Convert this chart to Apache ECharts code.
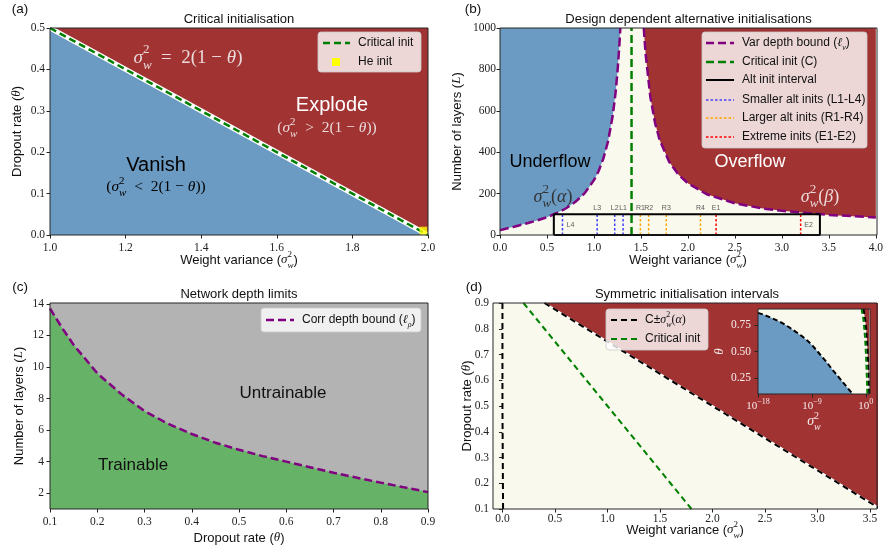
<!DOCTYPE html>
<html><head><meta charset="utf-8">
<script src="https://cdn.jsdelivr.net/npm/echarts@6/dist/echarts.min.js"></script>
<style>html,body{margin:0;padding:0;background:#fff}#c{width:886px;height:548px}</style>
</head><body><div id="c"></div>
<script>
// ================= DATA =================
// (a) critical initialisation line sigma_w^2 = 2(1-theta)
const aCritSigma = [1.0, 2.0];
const aCritTheta = [0.5, 0.0];
const heInitPoint = [1.988, 0.0104];

// (b) variance depth bound, left and right branches
const bLeftSigma = [0.0, 0.01, 0.03, 0.06, 0.1, 0.15, 0.2, 0.3, 0.4, 0.5, 0.6, 0.7, 0.8, 0.9, 1.0, 1.05, 1.1, 1.15, 1.2, 1.23, 1.25, 1.27, 1.281];
const bLeftDepth = [22, 24, 27, 30, 35, 40, 46, 58, 71, 86, 105, 128, 159, 201, 265, 309, 369, 452, 577, 687, 785, 913, 1000];
const bRightSigma = [1.53, 1.55, 1.6, 1.65, 1.7, 1.8, 1.9, 2.0, 2.2, 2.5, 2.8, 3.0, 3.5, 4.0];
const bRightDepth = [1000, 874, 667, 542, 458, 354, 291, 250, 197, 153, 128, 117, 97, 85];
const bCriticalSigma = [1.4, 1.4];
const bCriticalDepth = [0, 1000];
const bIntervalSigma = [0.573, 0.573, 3.405, 3.405, 0.573];
const bIntervalDepth = [0, 100, 100, 0, 0];
const smallerInits = [0.665, 1.034, 1.221, 1.31];
const smallerNames = ['L4', 'L3', 'L2', 'L1'];
const largerInits = [1.494, 1.582, 1.77, 2.134];
const largerNames = ['R1', 'R2', 'R3', 'R4'];
const extremeInits = [2.30, 3.20];
const extremeNames = ['E1', 'E2'];
const initLineDepth = [0, 98];

// (c) correlation depth bound
const cTheta = [0.1, 0.125, 0.15, 0.175, 0.2, 0.25, 0.3, 0.35, 0.4, 0.45, 0.5, 0.55, 0.6, 0.65, 0.7, 0.75, 0.8, 0.85, 0.9];
const cDepth = [13.7, 12.5, 11.4, 10.5, 9.6, 8.3, 7.2, 6.4, 5.75, 5.2, 4.75, 4.35, 4.0, 3.65, 3.3, 2.98, 2.67, 2.37, 2.07];

// (d) symmetric intervals
const dTheta = [0.9, 0.8, 0.7, 0.6, 0.5, 0.4, 0.3, 0.2, 0.1];
const dCritical = [0.2, 0.4, 0.6, 0.8, 1.0, 1.2, 1.4, 1.6, 1.8];
const dUpper = [0.4, 0.8, 1.2, 1.6, 2.0, 2.4, 2.8, 3.2, 3.6];
const dLowerSigma = [0.0, 0.0, 0.006];
const dLowerTheta = [0.9, 0.5, 0.1];
// inset: sigma_w^2(alpha) on log scale (exponents of 10)
const insetLogSigma = [-18, -17, -15.6, -14, -12.8, -10.6, -9.7, -8.9, -7.3, -6.4, -5.6, -4.7, -3.9, -3.0, -2.2];
const insetTheta = [0.864, 0.845, 0.812, 0.77, 0.728, 0.642, 0.6, 0.556, 0.45, 0.39, 0.33, 0.27, 0.215, 0.155, 0.1];

// tick values
const aXTicks = [1.0, 1.2, 1.4, 1.6, 1.8, 2.0];
const aYTicks = [0.0, 0.1, 0.2, 0.3, 0.4, 0.5];
const bXTicks = [0, 0.5, 1.0, 1.5, 2.0, 2.5, 3.0, 3.5, 4.0];
const bYTicks = [0, 200, 400, 600, 800, 1000];
const cXTicks = [0.1, 0.2, 0.3, 0.4, 0.5, 0.6, 0.7, 0.8, 0.9];
const cYTicks = [2, 4, 6, 8, 10, 12, 14];
const dXTicks = [0, 0.5, 1.0, 1.5, 2.0, 2.5, 3.0, 3.5];
const dYTicks = [0.1, 0.2, 0.3, 0.4, 0.5, 0.6, 0.7, 0.8, 0.9];
const eXTicks = [1e-18, 1e-9, 1];
const eYTicks = [0.25, 0.5, 0.75];

// ================= STYLE / LAYOUT =================
const SANS = 'Liberation Sans', SERIF = 'Liberation Serif';
const BLUE = '#6b9bc3', RED = '#a23333', CREAM = '#f9f9ed', GREY = '#b3b3b3', GREENF = '#66b266';
const PURPLE = '#800080', GREEN = '#008000', BLACK = '#000';
const G = {
  a: {left: 50, top: 28, width: 378, height: 207},
  b: {left: 500, top: 28, width: 377, height: 207},
  c: {left: 50, top: 303, width: 378, height: 206},
  d: {left: 493, top: 303, width: 384, height: 206},
  e: {left: 758, top: 309, width: 112, height: 85}
};

function rich(size, color) {
  const lh = Math.round(size * 1.5);
  const small = Math.round(size * 0.7);
  const c = {color: color, fill: color};
  return {
    t: Object.assign({fontFamily: SANS, fontSize: size, lineHeight: lh, align: 'left'}, c),
    r: Object.assign({fontFamily: SERIF, fontSize: size, lineHeight: lh, align: 'left'}, c),
    m: Object.assign({fontFamily: SERIF, fontStyle: 'italic', fontSize: size, lineHeight: lh, align: 'left'}, c),
    p: Object.assign({fontFamily: SERIF, fontSize: small, verticalAlign: 'top', width: 0, align: 'left'}, c),
    b: Object.assign({fontFamily: SERIF, fontStyle: 'italic', fontSize: small, verticalAlign: 'bottom', align: 'left'}, c),
    s: Object.assign({fontFamily: SERIF, fontSize: small, verticalAlign: 'top', align: 'left'}, c)
  };
}
const SW = '{m|σ}{p|2}{b|w}';
const nameW = '{t|Weight variance (}' + SW + '{t|)}';
const nameTheta = '{t|Dropout rate (}{m|θ}{t|)}';
const nameL = '{t|Number of layers (}{m|L}{t|)}';

const zip = (xs, ys) => xs.map((x, i) => [x, ys[i]]);
const f1 = v => (+v).toFixed(1);
const f0 = v => String(Math.round(v));
const f2 = v => (+v).toFixed(2);

function axis(gi, min, max, ticks, fmt, margin, extra) {
  return Object.assign({
    type: 'value', gridIndex: gi, min: min, max: max,
    axisLine: {show: false}, splitLine: {show: false},
    axisTick: {show: true, inside: false, length: 3.5, customValues: ticks, lineStyle: {color: '#222', width: 1}},
    axisLabel: {show: true, customValues: ticks, formatter: fmt, fontFamily: SERIF, fontSize: 11.5, color: '#222', margin: margin},
    nameLocation: 'middle', nameMoveOverlap: false,
    nameTextStyle: {fontFamily: SANS, fontSize: 13, color: '#111', rich: rich(13, '#111')}
  }, extra || {});
}

function ln(gi, xs, ys, lineStyle, extra) {
  return Object.assign({
    type: 'line', xAxisIndex: gi, yAxisIndex: gi, data: zip(xs, ys),
    showSymbol: false, symbol: 'none', silent: true, animation: false,
    lineStyle: lineStyle
  }, extra || {});
}

const series = [];
// ---- (a) ----
series.push(ln(0, aCritSigma, aCritTheta, {color: '#fff', width: 5}, {areaStyle: {color: BLUE, opacity: 1, origin: 'start'}}));
series.push(ln(0, aCritSigma, aCritTheta, {color: GREEN, width: 2.5, type: [7, 4]}, {z: 3}));
series.push({type: 'scatter', xAxisIndex: 0, yAxisIndex: 0, data: [heInitPoint], symbol: 'rect', symbolSize: 8,
  itemStyle: {color: '#ffff00'}, silent: true, z: 4});
// ---- (b) ----
series.push(ln(1, bLeftSigma, bLeftDepth, {color: PURPLE, width: 2.5, type: [9, 4]}, {areaStyle: {color: BLUE, opacity: 1, origin: 'end'}}));
series.push(ln(1, bRightSigma, bRightDepth, {color: PURPLE, width: 2.5, type: [9, 4]}, {areaStyle: {color: RED, opacity: 1, origin: 'end'}}));
series.push(ln(1, bCriticalSigma, bCriticalDepth, {color: GREEN, width: 2.5, type: [8, 4]}, {z: 4}));
series.push(ln(1, bIntervalSigma, bIntervalDepth, {color: BLACK, width: 2}, {z: 5}));
const initGroups = [[smallerInits, '#4040ff'], [largerInits, '#ffa500'], [extremeInits, '#ff0000']];
initGroups.forEach(([vals, col]) => vals.forEach(v => {
  series.push(ln(1, [v, v], initLineDepth, {color: col, width: 1.5, type: [2.5, 2]}, {z: 4}));
}));
const labelData = [];
const allInits = smallerInits.concat(largerInits, extremeInits);
const allNames = smallerNames.concat(largerNames, extremeNames);
allInits.forEach((v, i) => {
  const nm = allNames[i];
  const inside = (nm === 'L4' || nm === 'E2');
  labelData.push({value: inside ? [v + 0.085, 48] : [v, 132], name: nm});
});
series.push({type: 'scatter', xAxisIndex: 1, yAxisIndex: 1, data: labelData, symbolSize: 0, silent: true, z: 6,
  label: {show: true, position: 'inside', formatter: '{b}', fontFamily: SANS, fontSize: 7, color: '#333'}});
// ---- (c) ----
series.push(ln(2, cTheta, cDepth, {color: PURPLE, width: 2.5, type: [8, 4]}, {areaStyle: {color: GREENF, opacity: 1, origin: 'start'}}));
// ---- (d) ----
series.push(ln(3, dUpper, dTheta, {color: '#fff', width: 2}, {areaStyle: {color: RED, opacity: 1, origin: 'end'}}));
series.push(ln(3, dUpper, dTheta, {color: BLACK, width: 2, type: [6, 4]}, {z: 3}));
series.push(ln(3, dLowerSigma, dLowerTheta, {color: BLACK, width: 2, type: [6, 4]}, {z: 3}));
series.push(ln(3, dCritical, dTheta, {color: GREEN, width: 2, type: [6, 4]}, {z: 3}));
// ---- inset ----
const insetSigma = insetLogSigma.map(e => Math.pow(10, e));
series.push(ln(4, insetSigma, insetTheta, {color: BLACK, width: 2, type: [5, 3]}, {zlevel: 1, z: 3, areaStyle: {color: BLUE, opacity: 1, origin: 'start'}}));
series.push(ln(4, dUpper, dTheta, {color: BLACK, width: 2, type: [5, 3]}, {zlevel: 1, z: 3, areaStyle: {color: RED, opacity: 1, origin: 'end'}}));
series.push(ln(4, dCritical, dTheta, {color: GREEN, width: 2, type: [5, 3]}, {zlevel: 1, z: 4}));

// ================= GRAPHICS (frames, titles, legends, annotations) =================
const gfx = [];
function txt(x, y, text, size, color, extra) {
  gfx.push(Object.assign({type: 'text', x: x, y: y, z: 100, zlevel: 1, silent: true,
    style: {text: text, rich: rich(size, color), fill: color, fontFamily: SANS, fontSize: size, align: 'center', verticalAlign: 'middle'}}, extra || {}));
}
Object.keys(G).forEach(k => {
  const g = G[k];
  gfx.push({type: 'rect', z: 100, zlevel: 1, silent: true, shape: {x: g.left, y: g.top, width: g.width, height: g.height},
    style: {fill: null, stroke: '#262626', lineWidth: 1}});
});
// panel letters and titles
txt(20, 9, '{t|(a)}', 13.5, '#111');
txt(473, 9, '{t|(b)}', 13.5, '#111');
txt(20, 287, '{t|(c)}', 13.5, '#111');
txt(474, 287, '{t|(d)}', 13.5, '#111');
txt(G.a.left + G.a.width / 2, 19, '{t|Critical initialisation}', 13, '#111');
txt(G.b.left + G.b.width / 2, 19, '{t|Design dependent alternative initialisations}', 13, '#111');
txt(G.c.left + G.c.width / 2, 294, '{t|Network depth limits}', 13, '#111');
txt(687, 294, '{t|Symmetric initialisation intervals}', 13, '#111');
// region annotations
txt(188, 58, SW + '{r|  =  2(1 − }{m|θ}{r|)}', 19, '#eadada');
txt(332, 105, '{t|Explode}', 20, '#ffffff');
txt(327, 128, '{r|(}' + SW + '{r|  >  2(1 − }{m|θ}{r|))}', 15.5, '#eadada');
txt(156, 165, '{t|Vanish}', 20, '#000');
txt(156, 187, '{r|(}' + SW + '{r|  <  2(1 − }{m|θ}{r|))}', 15.5, '#000');
txt(550, 162, '{t|Underflow}', 18, '#000');
txt(750, 162, '{t|Overflow}', 18, '#ffffff');
txt(553, 197, SW + '{r|(}{m|α}{r|)}', 18, '#333');
txt(820, 197, SW + '{r|(}{m|β}{r|)}', 18, '#eadada');
txt(283, 393, '{t|Untrainable}', 17, '#111');
txt(133, 465, '{t|Trainable}', 17, '#111');

function legend(x, y, w, h, entries, zl) {
  gfx.push({type: 'rect', z: 90, zlevel: zl, silent: true, shape: {x: x, y: y, width: w, height: h, r: 3},
    style: {fill: 'rgba(255,255,255,0.8)', stroke: 'rgba(204,204,204,0.8)', lineWidth: 1}});
  entries.forEach(e => {
    if (e.kind === 'square') {
      gfx.push({type: 'rect', z: 91, zlevel: zl, silent: true, shape: {x: e.x1 + 10, y: e.y - 4, width: 8, height: 8}, style: {fill: e.color}});
    } else {
      gfx.push({type: 'line', z: 91, zlevel: zl, silent: true, shape: {x1: e.x1, y1: e.y, x2: e.x2, y2: e.y},
        style: {stroke: e.color, lineWidth: e.width, lineDash: e.dash || null}});
    }
    gfx.push({type: 'text', z: 92, zlevel: zl, silent: true, x: e.tx, y: e.y,
      style: {text: e.text, rich: rich(12, '#111'), fill: '#111', fontFamily: SANS, fontSize: 12, align: 'left', verticalAlign: 'middle'}});
  });
}
legend(318, 32, 103, 40, [
  {x1: 323, x2: 350, y: 43, color: GREEN, width: 2.5, dash: [7, 4], tx: 358, text: '{t|Critical init}'},
  {kind: 'square', x1: 322, y: 62, color: '#ffff00', tx: 358, text: '{t|He init}'}
], 0);
legend(702, 32, 165, 116, [
  {x1: 706, x2: 734, y: 43, color: PURPLE, width: 2.5, dash: [8, 4], tx: 742, text: '{t|Var depth bound (}{m|ℓ}{b|ν}{t|)}'},
  {x1: 706, x2: 734, y: 62, color: GREEN, width: 2.5, dash: [8, 4], tx: 742, text: '{t|Critical init (C)}'},
  {x1: 706, x2: 734, y: 80, color: BLACK, width: 2, tx: 742, text: '{t|Alt init interval}'},
  {x1: 706, x2: 734, y: 100, color: '#4040ff', width: 1.5, dash: [2.5, 2], tx: 742, text: '{t|Smaller alt inits (L1-L4)}'},
  {x1: 706, x2: 734, y: 118, color: '#ffa500', width: 1.5, dash: [2.5, 2], tx: 742, text: '{t|Larger alt inits (R1-R4)}'},
  {x1: 706, x2: 734, y: 137, color: '#ff0000', width: 1.5, dash: [2.5, 2], tx: 742, text: '{t|Extreme inits (E1-E2)}'}
], 0);
legend(261, 308, 160, 24, [
  {x1: 266, x2: 294, y: 320, color: PURPLE, width: 2.5, dash: [8, 4], tx: 302, text: '{t|Corr depth bound (}{m|ℓ}{b|ρ}{t|)}'}
], 0);
legend(606, 309, 102, 41, [
  {x1: 611, x2: 638, y: 320, color: BLACK, width: 2, dash: [6, 4], tx: 645, text: '{t|C±}' + SW + '{r|(}{m|α}{r|)}'},
  {x1: 611, x2: 638, y: 339, color: GREEN, width: 2, dash: [6, 4], tx: 645, text: '{t|Critical init}'}
], 0);

// ================= OPTION =================
const insetRich = rich(11, '#f5eaea');
const option = {
  animation: false,
  backgroundColor: '#ffffff',
  grid: [
    Object.assign({show: true, backgroundColor: RED, borderWidth: 0}, G.a),
    Object.assign({show: true, backgroundColor: CREAM, borderWidth: 0}, G.b),
    Object.assign({show: true, backgroundColor: GREY, borderWidth: 0}, G.c),
    Object.assign({show: true, backgroundColor: CREAM, borderWidth: 0}, G.d),
    Object.assign({show: true, backgroundColor: CREAM, borderWidth: 0, zlevel: 1}, G.e)
  ],
  xAxis: [
    axis(0, 1.0, 2.0, aXTicks, f1, 7, {name: nameW, nameGap: 15}),
    axis(1, 0, 4, bXTicks, f1, 7, {name: nameW, nameGap: 15}),
    axis(2, 0.1, 0.9, cXTicks, f1, 6.5, {name: nameTheta, nameGap: 19}),
    axis(3, -0.09, 3.567, dXTicks, f1, 4, {name: nameW, nameGap: 11}),
    {
      type: 'log', logBase: 10, gridIndex: 4, min: 1e-18, max: 5, zlevel: 1,
      axisLine: {show: false}, splitLine: {show: false}, minorTick: {show: false},
      axisTick: {show: true, inside: false, length: 3.5, customValues: eXTicks, lineStyle: {color: '#222'}},
      axisLabel: {show: true, customValues: eXTicks, margin: 4, fontFamily: SERIF, fontSize: 12, color: '#f5eaea', rich: insetRich,
        formatter: v => { const e = Math.round(Math.log10(v)); return '{r|10}{s|' + (e < 0 ? '−' + (-e) : e) + '}'; }},
      name: SW, nameLocation: 'middle', nameGap: 17, nameMoveOverlap: false,
      nameTextStyle: {fontFamily: SERIF, fontSize: 14, color: '#f5eaea', rich: rich(14, '#f5eaea')}
    }
  ],
  yAxis: [
    axis(0, 0, 0.5, aYTicks, f1, 5, {name: nameTheta, nameGap: 23}),
    axis(1, 0, 1000, bYTicks, f0, 4, {name: nameL, nameGap: 33}),
    axis(2, 1, 14.05, cYTicks, f0, 6, {name: nameL, nameGap: 21}),
    axis(3, 0.1, 0.9, dYTicks, f1, 4, {name: nameTheta, nameGap: 16}),
    {
      type: 'value', gridIndex: 4, min: 0.1, max: 0.9, zlevel: 1,
      axisLine: {show: false}, splitLine: {show: false},
      axisTick: {show: true, inside: false, length: 3.5, customValues: eYTicks, lineStyle: {color: '#222'}},
      axisLabel: {show: true, customValues: eYTicks, formatter: f2, margin: 7, fontFamily: SERIF, fontSize: 11.5, color: '#f5eaea'},
      name: '{m|θ}', nameLocation: 'middle', nameGap: 28, nameMoveOverlap: false,
      nameTextStyle: {fontFamily: SERIF, fontSize: 13, color: '#f5eaea', rich: rich(13, '#f5eaea')}
    }
  ],
  series: series,
  graphic: {elements: gfx}
};
const chart = echarts.init(document.getElementById('c'), null, {renderer: 'canvas'});
chart.setOption(option);
</script></body></html>
